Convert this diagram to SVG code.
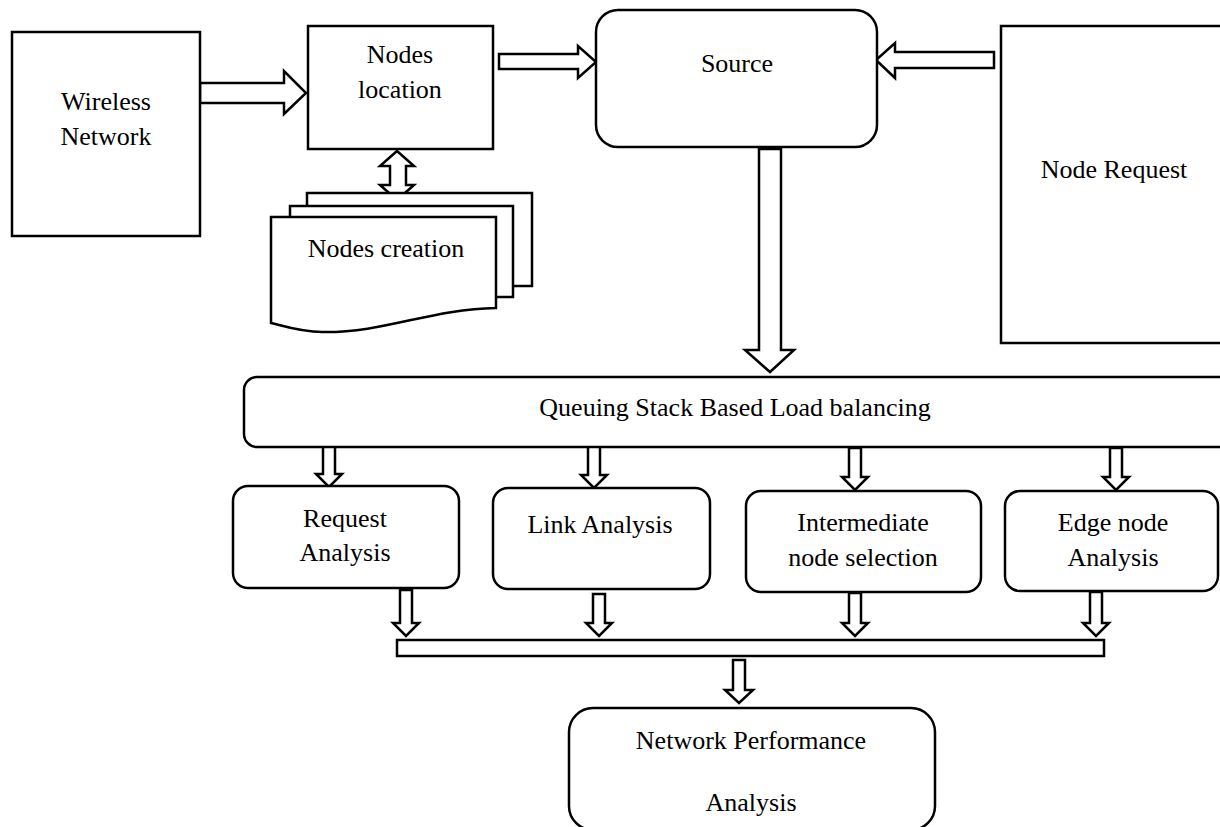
<svg xmlns="http://www.w3.org/2000/svg" width="1220" height="827" viewBox="0 0 1220 827">
  <style>
    .box { fill: #ffffff; stroke: #000000; stroke-width: 2.5; }
    .arrow { fill: #ffffff; stroke: #000000; stroke-width: 2.5; stroke-linejoin: miter; }
    .label { font-family: "Liberation Serif", "Times New Roman", serif; font-size: 26px; fill: #000000; text-anchor: middle; }
  </style>
  <rect x="0" y="0" width="1220" height="827" fill="#ffffff"/>

  <!-- block arrows -->
  <g id="connectors">
    <!-- Wireless Network -> Nodes location -->
    <polygon class="arrow" points="200,83 284,83 284,71 306,93 284,114 284,103 200,103"/>
    <!-- Nodes location -> Source -->
    <polygon class="arrow" points="499,54 578,54 578,46 596,62 578,78 578,69 499,69"/>
    <!-- Node Request -> Source -->
    <polygon class="arrow" points="994,52 895,52 895,43 876,60 895,78 895,68 994,68"/>
    <!-- Source -> Queuing Stack -->
    <polygon class="arrow" points="759,149 781,149 781,350 794,350 770,372 745,350 759,350"/>
    <!-- Nodes location <-> Nodes creation -->
    <polygon class="arrow" points="397,151 414,166 406,166 406,185 414,185 397,200 380,185 390,185 390,166 380,166"/>
    <!-- Queuing Stack -> four analysis blocks -->
    <polygon class="arrow" points="323,446 335,446 335,474 342,474 329,487 316,474 323,474"/>
    <polygon class="arrow" points="588,446 600,446 600,475 607,475 594,488 581,475 588,475"/>
    <polygon class="arrow" points="849,448 861,448 861,477 868,477 855,490 842,477 849,477"/>
    <polygon class="arrow" points="1110,448 1122,448 1122,477 1129,477 1116,490 1103,477 1110,477"/>
    <!-- analysis blocks -> collector bar -->
    <polygon class="arrow" points="400,590 412,590 412,623 419,623 406,636 393,623 400,623"/>
    <polygon class="arrow" points="593,594 605,594 605,623 612,623 599,636 586,623 593,623"/>
    <polygon class="arrow" points="849,593 861,593 861,623 868,623 855,636 842,623 849,623"/>
    <polygon class="arrow" points="1090,592 1102,592 1102,623 1109,623 1096,636 1083,623 1090,623"/>
    <!-- collector bar -> Network Performance Analysis -->
    <polygon class="arrow" points="733,660 745,660 745,690 753,690 739,703 725,690 733,690"/>
  </g>

  <g id="wireless-network">
    <rect class="box" x="12" y="32" width="188" height="204"/>
    <text class="label" x="106" y="110">Wireless</text>
    <text class="label" x="106" y="145">Network</text>
  </g>

  <g id="nodes-location">
    <rect class="box" x="308" y="26" width="185" height="123"/>
    <text class="label" x="400" y="63">Nodes</text>
    <text class="label" x="400" y="98">location</text>
  </g>

  <g id="nodes-creation">
    <rect class="box" x="307" y="193" width="225" height="93"/>
    <rect class="box" x="290" y="206" width="223" height="91"/>
    <path class="box" d="M271,217 H496 V308 C430,309 385,333 322,332 C302,332 287,327 271,323 Z"/>
    <text class="label" x="386" y="257">Nodes creation</text>
  </g>

  <g id="source">
    <rect class="box" x="596" y="10" width="281" height="137" rx="22" ry="22"/>
    <text class="label" x="737" y="72">Source</text>
  </g>

  <g id="node-request">
    <rect class="box" x="1001" y="26" width="230" height="317"/>
    <text class="label" x="1114" y="178">Node Request</text>
  </g>

  <g id="queuing-stack">
    <rect class="box" x="244" y="377" width="990" height="70" rx="13" ry="13"/>
    <text class="label" x="735" y="416">Queuing Stack Based Load balancing</text>
  </g>

  <g id="request-analysis">
    <rect class="box" x="233" y="486" width="226" height="102" rx="15" ry="15"/>
    <text class="label" x="345" y="527">Request</text>
    <text class="label" x="345" y="561">Analysis</text>
  </g>

  <g id="link-analysis">
    <rect class="box" x="493" y="488" width="217" height="101" rx="15" ry="15"/>
    <text class="label" x="600" y="533">Link Analysis</text>
  </g>

  <g id="intermediate-node-selection">
    <rect class="box" x="746" y="491" width="235" height="101" rx="15" ry="15"/>
    <text class="label" x="863" y="531">Intermediate</text>
    <text class="label" x="863" y="566">node selection</text>
  </g>

  <g id="edge-node-analysis">
    <rect class="box" x="1005" y="491" width="213" height="100" rx="15" ry="15"/>
    <text class="label" x="1113" y="531">Edge node</text>
    <text class="label" x="1113" y="566">Analysis</text>
  </g>

  <g id="collector-bar">
    <rect class="box" x="397" y="640" width="707" height="16"/>
  </g>

  <g id="network-performance">
    <rect class="box" x="569" y="708" width="366" height="122" rx="24" ry="24"/>
    <text class="label" x="751" y="749">Network Performance</text>
    <text class="label" x="751" y="811">Analysis</text>
  </g>
</svg>
